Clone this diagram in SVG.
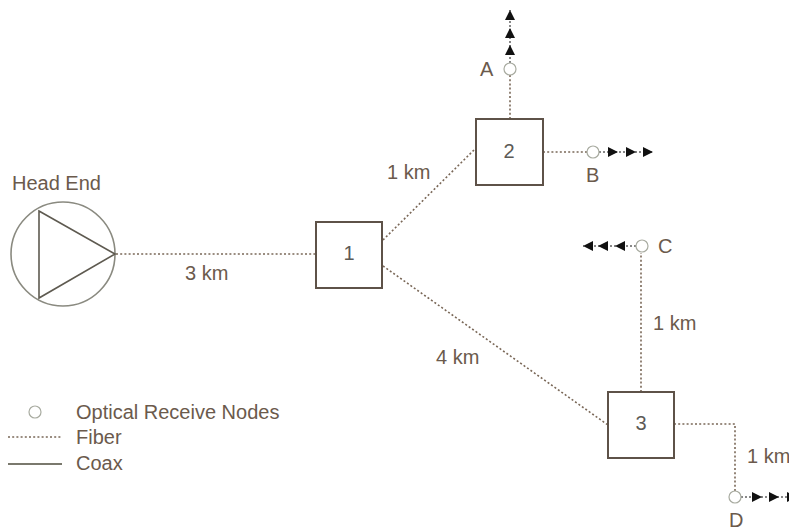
<svg xmlns="http://www.w3.org/2000/svg" xmlns:xlink="http://www.w3.org/1999/xlink" width="789" height="532" viewBox="0 0 789 532">
  <style>
    text { font-family: "Liberation Sans", Arial, sans-serif; font-size: 20px; fill: #6b5a4c; }
    .num { text-anchor: middle; fill: #5c5a56; }
    .box { fill: #ffffff; stroke: #5e5248; stroke-width: 2; }
    .fiber { fill: none; stroke: #7a6858; stroke-width: 1.6; stroke-dasharray: 2 2.2; }
    .coax { fill: none; stroke: #4e4c3c; stroke-width: 1.6; }
    .node { fill: #ffffff; stroke: #a8aba0; stroke-width: 1.2; }
    .drop { fill: none; stroke: #111111; stroke-width: 1; stroke-dasharray: 2 2; }
    .head { fill: #111111; }
  </style>
  <defs>
    <!-- arrowhead pointing right, tip at origin -->
    <path id="ah" d="M0,0 L-10,-5 L-10,5 Z" class="head"/>
  </defs>
  <rect width="789" height="532" fill="#ffffff"/>

  <g id="connectors">
    <line class="fiber" x1="116" y1="254" x2="316" y2="254"/>
    <line class="fiber" x1="383" y1="240" x2="476" y2="148"/>
    <line class="fiber" x1="383" y1="266" x2="608" y2="425"/>
    <line class="fiber" x1="510" y1="119" x2="510" y2="75"/>
    <line class="fiber" x1="543" y1="152" x2="587" y2="152"/>
    <line class="fiber" x1="641" y1="392" x2="641" y2="253"/>
    <polyline class="fiber" points="674,424 735,424 735,491"/>
    <!-- outgoing coax drops -->
    <g id="drop-A">
      <line class="drop" x1="510" y1="63" x2="510" y2="10"/>
      <use xlink:href="#ah" transform="translate(510,45) rotate(-90)"/>
      <use xlink:href="#ah" transform="translate(510,28) rotate(-90)"/>
      <use xlink:href="#ah" transform="translate(510,10) rotate(-90)"/>
    </g>
    <g id="drop-B">
      <line class="drop" x1="599" y1="152" x2="652" y2="152"/>
      <use xlink:href="#ah" transform="translate(618,152)"/>
      <use xlink:href="#ah" transform="translate(636,152)"/>
      <use xlink:href="#ah" transform="translate(653,152)"/>
    </g>
    <g id="drop-C">
      <line class="drop" x1="636" y1="246" x2="583" y2="246"/>
      <use xlink:href="#ah" transform="translate(615,246) rotate(180)"/>
      <use xlink:href="#ah" transform="translate(598,246) rotate(180)"/>
      <use xlink:href="#ah" transform="translate(583,246) rotate(180)"/>
    </g>
    <g id="drop-D">
      <line class="drop" x1="741" y1="497" x2="789" y2="497"/>
      <use xlink:href="#ah" transform="translate(762,497)"/>
      <use xlink:href="#ah" transform="translate(779,497)"/>
      <use xlink:href="#ah" transform="translate(797,497)"/>
    </g>
  </g>

  <g id="head-end">
    <circle cx="63" cy="254" r="52" fill="#ffffff" stroke="#8a8a80" stroke-width="1.6"/>
    <polygon points="39,211 115,254 39,298" fill="none" stroke="#5e5a50" stroke-width="1.6"/>
    <text x="12" y="190">Head End</text>
  </g>

  <g id="hub-1">
    <rect class="box" x="316" y="222" width="66" height="66"/>
    <text class="num" x="349" y="260">1</text>
  </g>
  <g id="hub-2">
    <rect class="box" x="476" y="119" width="67" height="66"/>
    <text class="num" x="509" y="158">2</text>
  </g>
  <g id="hub-3">
    <rect class="box" x="608" y="392" width="66" height="66"/>
    <text class="num" x="641" y="430">3</text>
  </g>

  <g id="node-A">
    <circle class="node" cx="510" cy="69" r="6"/>
    <text x="480" y="76">A</text>
  </g>
  <g id="node-B">
    <circle class="node" cx="593" cy="152" r="6"/>
    <text x="586" y="182">B</text>
  </g>
  <g id="node-C">
    <circle class="node" cx="642" cy="246" r="6"/>
    <text x="658" y="253">C</text>
  </g>
  <g id="node-D">
    <circle class="node" cx="735" cy="497" r="6"/>
    <text x="729" y="527">D</text>
  </g>

  <g id="distances">
    <text x="387" y="179">1 km</text>
    <text x="185" y="280">3 km</text>
    <text x="436" y="364">4 km</text>
    <text x="653" y="330">1 km</text>
    <text x="747" y="463">1 km</text>
  </g>

  <g id="legend">
    <circle class="node" cx="35" cy="412" r="6"/>
    <text x="76" y="419">Optical Receive Nodes</text>
    <line class="fiber" x1="8" y1="437" x2="62" y2="437"/>
    <text x="76" y="444">Fiber</text>
    <line class="coax" x1="8" y1="464" x2="62" y2="464"/>
    <text x="76" y="470">Coax</text>
  </g>
</svg>
